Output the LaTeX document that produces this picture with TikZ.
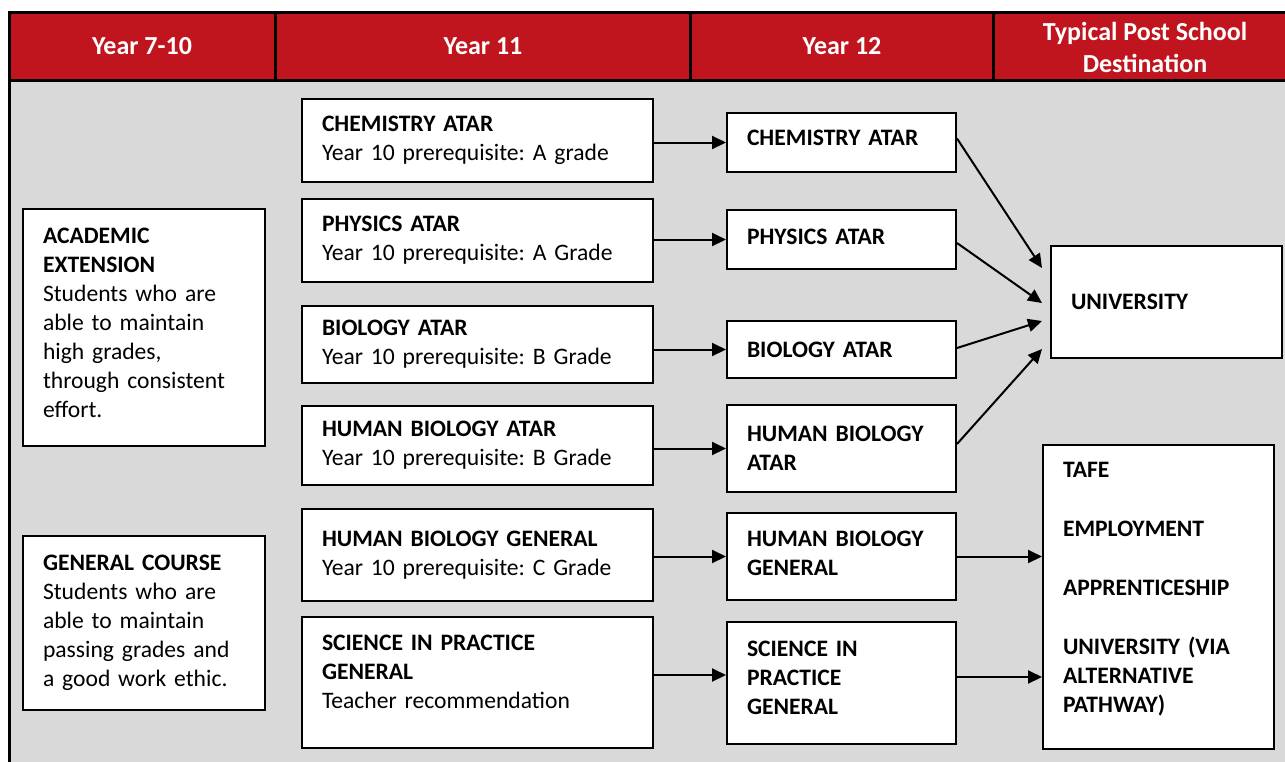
\documentclass[tikz,border=0pt]{standalone}
\usepackage{fontspec}
\setmainfont{Carlito}
\usepackage{xcolor}
\usepackage{tikz}
\usetikzlibrary{positioning,arrows.meta}
\definecolor{hdrred}{RGB}{192,20,30}
\definecolor{bggray}{RGB}{217,217,217}
% extra depth on a last line, lifts the text inside its box
\newcommand{\dropstrut}[1]{\rule[-#1]{0pt}{#1}}

\begin{document}
\frenchspacing
\fontsize{11.8}{14.5}\selectfont
\begin{tikzpicture}[
  x=0.5pt,y=-0.5pt,
  bx/.style={draw,line width=1pt,fill=white,anchor=north west,align=left,inner xsep=10pt,inner ysep=0pt},
  lf/.style={bx,text width=101pt},
  ya/.style={bx,text width=155.5pt},
  yb/.style={bx,text width=94.5pt,font=\bfseries},
  ds/.style={bx,text width=95.5pt,font=\bfseries},
  hd/.style={text=white,font=\fontsize{13}{16}\selectfont\bfseries,align=center},
  >={Triangle[length=7pt,width=6.5pt]},
  ar/.style={->,line width=1pt}
]
\path[use as bounding box] (0,0) rectangle (1285,761);
\clip (0,0) rectangle (1285,761);
% table frame and header band
\fill[bggray] (9,80) rectangle (1300,770);
\fill[hdrred] (9,12) rectangle (1300,80);
\draw[line width=1.5pt] (1300,12) -- (9,12) -- (9,770);
\draw[line width=1.5pt] (9,80) -- (1300,80);
\foreach \x in {275,690,993} \draw[line width=1.5pt] (\x,12) -- (\x,80);
% headings
\node[hd] (h1) at (142,46) {Year 7-10};
\node[hd] (h2) at (483,46) {Year 11};
\node[hd] (h3) at (842,46) {Year 12};
\node[hd] (h4) at (1145,47) {Typical Post School\\Destination};
% year 7-10 streams
\node[lf,minimum height=118.5pt] (acad) at (22,208) {\textbf{ACADEMIC}\\\textbf{EXTENSION}\\Students who are\\able to maintain\\high grades,\\through consistent\\effort.\dropstrut{5pt}};
\node[lf,minimum height=87pt] (gen) at (22,535) {\textbf{GENERAL COURSE}\\Students who are\\able to maintain\\passing grades and\\a good work ethic.};
% year 11 courses
\node[ya,minimum height=41.5pt] (chem11) at (301,98) {\textbf{CHEMISTRY ATAR}\\Year 10 prerequisite: A grade};
\node[ya,minimum height=41.5pt] (phys11) at (301,198) {\textbf{PHYSICS ATAR}\\Year 10 prerequisite: A Grade};
\node[ya,minimum height=38.5pt] (bio11) at (301,305) {\textbf{BIOLOGY ATAR}\\Year 10 prerequisite: B Grade};
\node[ya,minimum height=39.5pt] (hba11) at (301,405) {\textbf{HUMAN BIOLOGY ATAR}\\Year 10 prerequisite: B Grade};
\node[ya,minimum height=46pt] (hbg11) at (301,508) {\textbf{HUMAN BIOLOGY GENERAL}\\Year 10 prerequisite: C Grade};
\node[ya,minimum height=65.5pt] (sip11) at (301,616) {\textbf{SCIENCE IN PRACTICE}\\\textbf{GENERAL}\\Teacher recommendation\dropstrut{11pt}};
% year 12 courses
\node[yb,minimum height=29.5pt] (chem12) at (726,112) {CHEMISTRY ATAR\dropstrut{5pt}};
\node[yb,minimum height=29.5pt] (phys12) at (726,209) {PHYSICS ATAR\dropstrut{3pt}};
\node[yb,minimum height=28.5pt] (bio12) at (726,320) {BIOLOGY ATAR};
\node[yb,minimum height=43.5pt] (hba12) at (726,404) {HUMAN BIOLOGY\\ATAR};
\node[yb,minimum height=43.5pt] (hbg12) at (726,512) {HUMAN BIOLOGY\\GENERAL\dropstrut{3pt}};
\node[yb,minimum height=61pt] (sip12) at (726,621) {SCIENCE IN\\PRACTICE\\GENERAL\dropstrut{5pt}};
% destinations
\node[ds,minimum height=56pt] (uni) at (1050,245) {UNIVERSITY};
\node[ds,minimum height=152pt] (dest) at (1042,444) {TAFE\\[15pt]EMPLOYMENT\\[15pt]APPRENTICESHIP\\[15pt]UNIVERSITY (VIA\\ALTERNATIVE\\PATHWAY)\dropstrut{9.5pt}};
% year 11 to year 12
\draw[ar] (chem11.east |- chem12.west) -- (chem12.west);
\draw[ar] (phys11.east |- phys12.west) -- (phys12.west);
\draw[ar] (bio11.east |- bio12.west) -- (bio12.west);
\draw[ar] (hba11.east |- hba12.west) -- (hba12.west);
\draw[ar] (hbg11.east |- hbg12.west) -- (hbg12.west);
\draw[ar] ([yshift=4pt]sip11.east |- sip12.west) -- ([yshift=4pt]sip12.west);
% year 12 to destination
\draw[ar] ([yshift=2pt]chem12.east) -- ([xshift=-4pt,yshift=17pt]uni.west);
\draw[ar] ([yshift=-1.75pt]phys12.east) -- ([xshift=-4pt,yshift=-0.5pt]uni.west);
\draw[ar] ([yshift=0.75pt]bio12.east) -- ([xshift=-4pt,yshift=-9.5pt]uni.west);
\draw[ar] ([yshift=2.25pt]hba12.east) -- ([xshift=-4pt,yshift=-23.5pt]uni.west);
\draw[ar] (hbg12.east) -- (hbg12.east -| dest.west);
\draw[ar] ([yshift=3pt]sip12.east) -- ([yshift=3pt]sip12.east -| dest.west);
\end{tikzpicture}
\end{document}
